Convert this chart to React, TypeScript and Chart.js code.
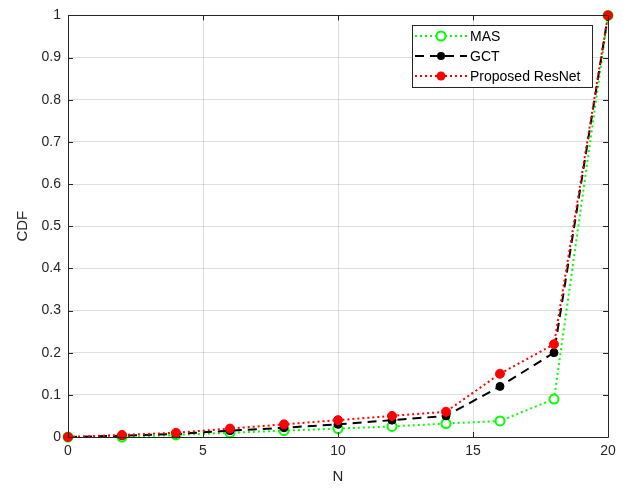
import React, { useEffect, useRef } from "react";
import { Chart, registerables } from "chart.js";

Chart.register(...registerables);

const nValues = [0, 2, 4, 6, 8, 10, 12, 14, 16, 18, 20];
const masCdf = [0, 0, 0.005, 0.01, 0.015, 0.02, 0.025, 0.032, 0.038, 0.09, 1];
const gctCdf = [0, 0.003, 0.007, 0.015, 0.022, 0.03, 0.04, 0.05, 0.12, 0.2, 1];
const resnetCdf = [0, 0.005, 0.01, 0.02, 0.03, 0.04, 0.05, 0.06, 0.15, 0.22, 1];
const seriesLabels = ["MAS", "GCT", "Proposed ResNet"];
const xTicks = [0, 5, 10, 15, 20];
const yTicks = [0, 0.1, 0.2, 0.3, 0.4, 0.5, 0.6, 0.7, 0.8, 0.9, 1];

const FONT = "'Liberation Sans', Arial, sans-serif";
const AXIS_COLOR = "#262626";

const boxPlugin = {
  id: "matlabBox",
  afterDraw(chart: any) {
    const { ctx, chartArea: a, scales } = chart;
    ctx.save();
    ctx.strokeStyle = AXIS_COLOR;
    ctx.lineWidth = 1;
    ctx.beginPath();
    ctx.rect(Math.round(a.left) + 0.5, Math.round(a.top) + 0.5, Math.round(a.right - a.left), Math.round(a.bottom - a.top));
    ctx.stroke();
    const tl = 5;
    ctx.beginPath();
    for (const v of xTicks) {
      const x = Math.round(scales.x.getPixelForValue(v)) + 0.5;
      ctx.moveTo(x, a.bottom);
      ctx.lineTo(x, a.bottom - tl);
      ctx.moveTo(x, a.top);
      ctx.lineTo(x, a.top + tl);
    }
    for (const v of yTicks) {
      const y = Math.round(scales.y.getPixelForValue(v)) + 0.5;
      ctx.moveTo(a.left, y);
      ctx.lineTo(a.left + tl, y);
      ctx.moveTo(a.right, y);
      ctx.lineTo(a.right - tl, y);
    }
    ctx.stroke();

    // legend
    const lx = 412, ly = 25, lw = 180, lh = 62;
    ctx.fillStyle = "#ffffff";
    ctx.fillRect(lx, ly, lw, lh);
    ctx.strokeStyle = AXIS_COLOR;
    ctx.strokeRect(lx + 0.5, ly + 0.5, lw, lh);
    const rows = [36, 56, 76];
    chart.data.datasets.forEach((ds: any, i: number) => {
      const idx = seriesLabels.indexOf(ds.label);
      const ry = rows[idx] ?? ly + 11 + i * 20;
      ctx.save();
      ctx.strokeStyle = ds.borderColor;
      ctx.lineWidth = ds.borderWidth;
      ctx.setLineDash(ds.borderDash || []);
      ctx.beginPath();
      ctx.moveTo(415, ry);
      ctx.lineTo(467, ry);
      ctx.stroke();
      ctx.setLineDash([]);
      ctx.beginPath();
      ctx.arc(441, ry, ds.pointRadius, 0, Math.PI * 2);
      if (ds.pointBackgroundColor !== "#ffffff") {
        ctx.fillStyle = ds.pointBackgroundColor;
        ctx.fill();
      } else {
        ctx.fillStyle = "#ffffff";
        ctx.fill();
        ctx.lineWidth = ds.pointBorderWidth;
        ctx.strokeStyle = ds.pointBorderColor;
        ctx.stroke();
      }
      ctx.fillStyle = "#000000";
      ctx.font = `14px ${FONT}`;
      ctx.textBaseline = "middle";
      ctx.fillText(ds.label, 470, ry + 1);
      ctx.restore();
    });
    ctx.restore();
  },
};

export default function App() {
  const ref = useRef<HTMLCanvasElement>(null);
  useEffect(() => {
    if (!ref.current) return;
    const chart = new Chart(ref.current, {
      type: "line",
      data: {
        labels: nValues,
        datasets: [
          {
            label: seriesLabels[0],
            data: nValues.map((x, i) => ({ x, y: masCdf[i] })),
            borderColor: "#00ff00",
            borderWidth: 2,
            borderDash: [2, 3],
            pointRadius: 4.5,
            pointBackgroundColor: "#ffffff",
            pointBorderColor: "#00ff00",
            pointBorderWidth: 2,
            clip: false,
            order: 3,
          },
          {
            label: seriesLabels[1],
            data: nValues.map((x, i) => ({ x, y: gctCdf[i] })),
            borderColor: "#000000",
            borderWidth: 2,
            borderDash: [9, 6],
            pointRadius: 4,
            pointBackgroundColor: "#000000",
            pointBorderColor: "#000000",
            pointBorderWidth: 1,
            clip: false,
            order: 2,
          },
          {
            label: seriesLabels[2],
            data: nValues.map((x, i) => ({ x, y: resnetCdf[i] })),
            borderColor: "#ff0000",
            borderWidth: 2,
            borderDash: [2, 3],
            pointRadius: 4.5,
            pointBackgroundColor: "#ff0000",
            pointBorderColor: "#ff0000",
            pointBorderWidth: 1,
            clip: false,
            order: 1,
          },
        ],
      },
      options: {
        responsive: false,
        animation: false,
        layout: { padding: { top: 12, right: 22, left: 0, bottom: 0 } },
        plugins: { legend: { display: false }, tooltip: { enabled: false } },
        scales: {
          x: {
            type: "linear",
            min: 0,
            max: 20,
            afterBuildTicks: (s: any) => {
              s.ticks = xTicks.map((v) => ({ value: v }));
            },
            afterFit: (s: any) => {
              s.height = 54;
            },
            grid: { color: "rgba(0,0,0,0.13)", drawTicks: false },
            border: { display: false },
            ticks: {
              padding: 6,
              color: AXIS_COLOR,
              font: { family: FONT, size: 14 },
              callback: (v: any) => String(v),
            },
            title: {
              display: true,
              text: "N",
              color: AXIS_COLOR,
              font: { family: FONT, size: 15 },
              padding: { top: 0, bottom: 5 },
            },
          },
          y: {
            type: "linear",
            min: 0,
            max: 1,
            afterBuildTicks: (s: any) => {
              s.ticks = yTicks.map((v) => ({ value: v }));
            },
            afterFit: (s: any) => {
              s.width = 68;
            },
            grid: { color: "rgba(0,0,0,0.13)", drawTicks: false },
            border: { display: false },
            ticks: {
              padding: 7,
              color: AXIS_COLOR,
              font: { family: FONT, size: 14 },
              callback: (v: any) => (v === 0 || v === 1 ? String(v) : Number(v).toFixed(1)),
            },
            title: {
              display: true,
              text: "CDF",
              color: AXIS_COLOR,
              font: { family: FONT, size: 15 },
              padding: { top: 14, bottom: 0 },
            },
          },
        },
      },
      plugins: [boxPlugin],
    } as any);
    return () => chart.destroy();
  }, []);
  return (
    <div style={{ position: "absolute", left: 0, top: 0, width: 630, height: 491, background: "#fff" }}>
      <canvas ref={ref} width={630} height={491} style={{ width: 630, height: 491 }} />
    </div>
  );
}
